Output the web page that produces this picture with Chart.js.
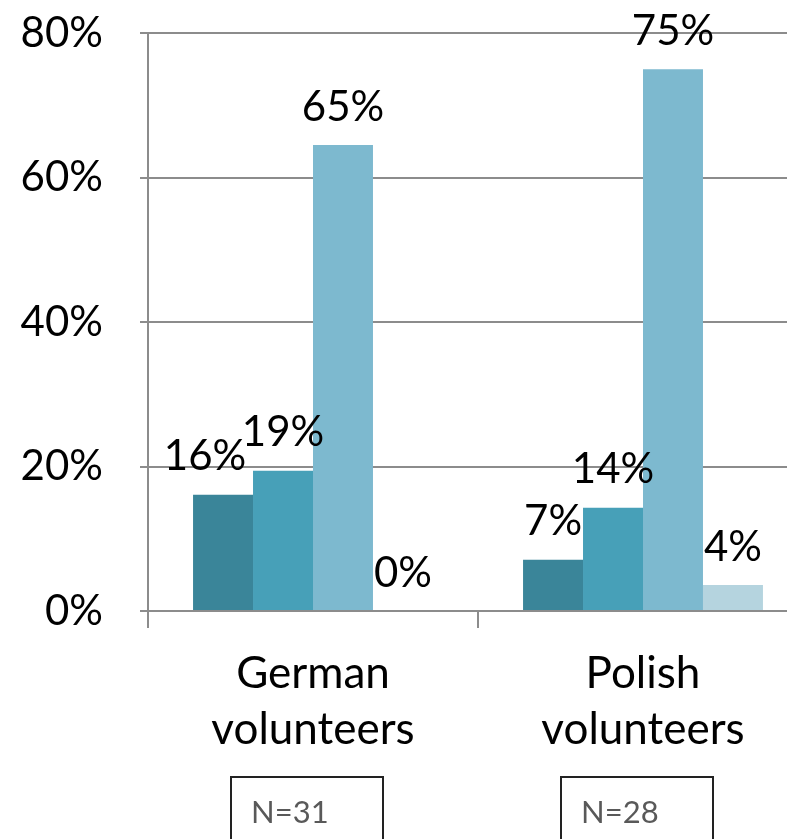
<!DOCTYPE html>
<html>
<head>
    <title>Volunteers chart</title>
    <script src="https://cdn.jsdelivr.net/npm/chart.js"></script>
    <style>
        html, body { margin: 0; padding: 0; background: #fff; overflow: hidden; }
        #wrap { width: 830px; height: 839px; }
    </style>
</head>
<body>
    <div id="wrap"><canvas id="volChart" width="830" height="839"></canvas></div>

    <script>
    // Data (percent of respondents)
    const categories = [['German', 'volunteers'], ['Polish', 'volunteers']];
    const sampleSizes = ['N=31', 'N=28'];
    const series1 = [16.1, 7.1];
    const series2 = [19.4, 14.3];
    const series3 = [64.5, 75.0];
    const series4 = [0, 3.6];
    const yTicks = [0, 20, 40, 60, 80];

    const colors = ['#3a8599', '#47a0b8', '#7db9cf', '#b5d4df'];
    const FONT = 'Lato';

    // value labels above each bar, and the N= boxes under the categories
    const labelPlugin = {
        id: 'valueLabels',
        afterDatasetsDraw(chart) {
            const ctx = chart.ctx;
            ctx.save();
            ctx.font = '42px ' + FONT;
            ctx.fillStyle = '#000';
            ctx.textAlign = 'center';
            ctx.textBaseline = 'middle';
            chart.data.datasets.forEach((ds, di) => {
                chart.getDatasetMeta(di).data.forEach((bar, i) => {
                    // first German label was nudged left in the original to avoid the next one
                    const nudge = (di === 0 && i === 0) ? -18 : 0;
                    ctx.fillText(Math.round(ds.data[i]) + '%', bar.x + nudge, bar.y - 38);
                });
            });
            ctx.restore();
        },
        afterDraw(chart) {
            const ctx = chart.ctx;
            const xs = chart.scales.x;
            ctx.save();
            ctx.strokeStyle = '#222';
            ctx.lineWidth = 2;
            ctx.font = '31px ' + FONT;
            ctx.fillStyle = '#595959';
            ctx.textBaseline = 'middle';
            sampleSizes.forEach((txt, i) => {
                const cx = xs.getPixelForValue(i) - 6;
                ctx.strokeRect(cx - 76, 777, 152, 80);
                ctx.fillText(txt, cx - 56, 813);
            });
            ctx.restore();
        }
    };

    new Chart(document.getElementById('volChart'), {
        type: 'bar',
        data: {
            labels: categories,
            datasets: [
                { data: series1, backgroundColor: colors[0] },
                { data: series2, backgroundColor: colors[1] },
                { data: series3, backgroundColor: colors[2] },
                { data: series4, backgroundColor: colors[3] }
            ]
        },
        options: {
            responsive: false,
            animation: false,
            layout: { padding: { top: 33, right: 22, left: 0, bottom: 0 } },
            datasets: { bar: { categoryPercentage: 0.727, barPercentage: 1.0 } },
            plugins: { legend: { display: false }, tooltip: { enabled: false } },
            scales: {
                x: {
                    grid: { offset: true, drawOnChartArea: false, color: '#8c8c8c', lineWidth: 2, tickLength: 17 },
                    border: { color: '#8c8c8c', width: 2 },
                    ticks: { color: '#000', font: { family: FONT, size: 44, lineHeight: 1.27 }, padding: 18, maxRotation: 0 },
                    afterFit(scale) {
                        scale.height = 228;
                        scale.paddingLeft = 0;
                        scale.paddingRight = 0;
                    }
                },
                y: {
                    min: 0, max: 80,
                    afterBuildTicks(scale) { scale.ticks = yTicks.map(v => ({ value: v })); },
                    grid: { color: '#8c8c8c', lineWidth: 2, tickLength: 8 },
                    border: { color: '#8c8c8c', width: 2 },
                    ticks: { color: '#000', font: { family: FONT, size: 42 }, padding: 37, callback: v => v + '%' },
                    afterFit(scale) {
                        scale.width = 148;
                        scale.paddingTop = 0;
                        scale.paddingBottom = 0;
                    }
                }
            }
        },
        plugins: [labelPlugin]
    });
    </script>
</body>
</html>
